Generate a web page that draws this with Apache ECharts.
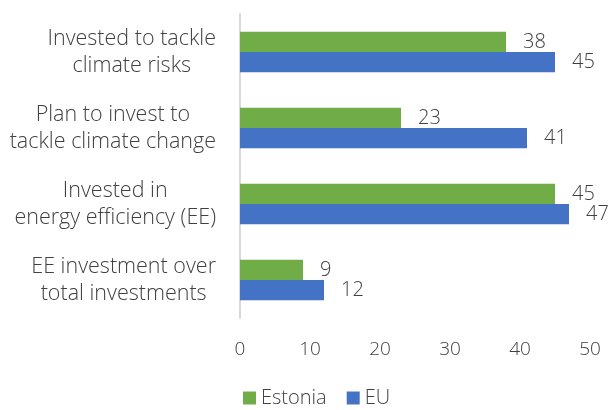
<!DOCTYPE html>
<html><head><meta charset="utf-8">
<script src="https://cdn.jsdelivr.net/npm/echarts@6/dist/echarts.min.js"></script>
<style>html,body{margin:0;padding:0;background:#fff}#c{width:609px;height:410px}</style>
</head><body><div id="c"></div>
<script>
const categories = ["Invested to tackle\nclimate risks", "Plan to invest to\ntackle climate change", "Invested in\nenergy efficiency (EE)", "EE investment over\ntotal investments"];
const estonia = [38, 23, 45, 9];
const eu = [45, 41, 47, 12];
const seriesNames = ["Estonia", "EU"];
const FONT = "Open Sans";
const chart = echarts.init(document.getElementById('c'));
chart.setOption({
  animation: false,
  textStyle: {fontFamily: FONT},
  grid: {left: 240, right: 19, top: 14, bottom: 92, containLabel: false},
  legend: {
    data: seriesNames, bottom: -3, left: 238, itemWidth: 13, itemHeight: 13, itemGap: 20,
    icon: 'rect',
    textStyle: {fontFamily: FONT, fontSize: 20, color: '#404040', fontWeight: 300}
  },
  xAxis: {
    type: 'value', min: 0, max: 50, interval: 10,
    axisLine: {show: false}, axisTick: {show: false}, splitLine: {show: false},
    axisLabel: {fontFamily: FONT, fontSize: 19, color: '#404040', margin: 22, fontWeight: 300}
  },
  yAxis: {
    type: 'category', data: categories, inverse: true,
    axisLine: {show: true, lineStyle: {color: '#d9d9d9', width: 2}},
    axisTick: {show: false},
    axisLabel: {margin: 24, align: 'right',
      formatter: v => v.split('\n').map(l => '{a|' + l + '}').join('\n'),
      rich: {a: {align: 'center', fontFamily: FONT, fontSize: 21.5, color: '#404040', lineHeight: 27, fontWeight: 300}}
    }
  },
  series: [
    {name: seriesNames[0], type: 'bar', data: estonia, barGap: '0%', barCategoryGap: '47%',
     itemStyle: {color: '#70AD47'},
     label: {show: true, position: 'right', distance: 17, fontFamily: FONT, fontSize: 20, color: '#404040', fontWeight: 300}},
    {name: seriesNames[1], type: 'bar', data: eu, barGap: '0%', barCategoryGap: '47%',
     itemStyle: {color: '#4472C4'},
     label: {show: true, position: 'right', distance: 17, fontFamily: FONT, fontSize: 20, color: '#404040', fontWeight: 300}}
  ]
});
</script></body></html>
